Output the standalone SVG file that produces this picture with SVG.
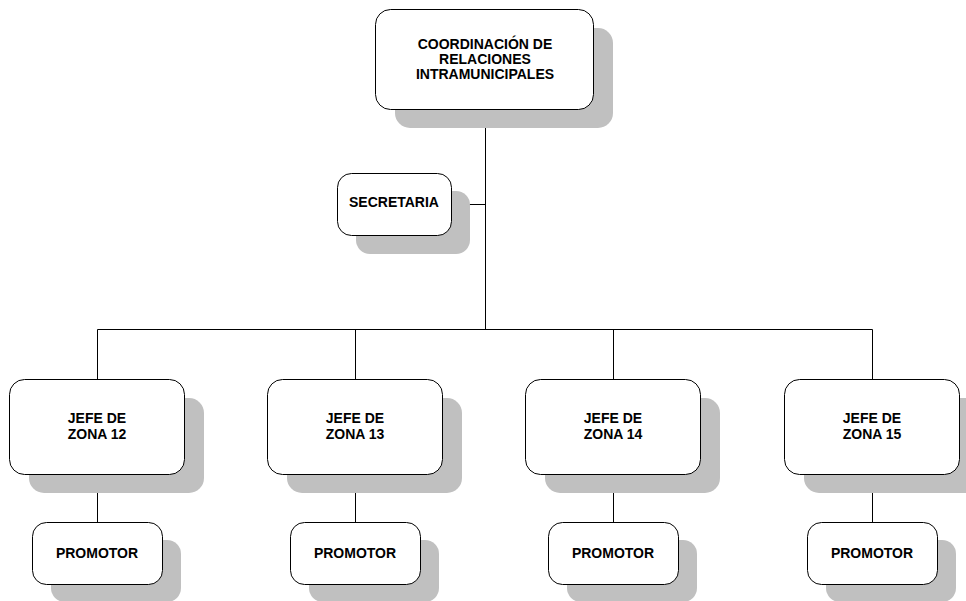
<svg xmlns="http://www.w3.org/2000/svg" width="966" height="601" viewBox="0 0 966 601">
<style>
.sh{fill:#c0c0c0;stroke:none}
.bx{fill:#fff;stroke:#000;stroke-width:1}
.t{font-family:"Liberation Sans",Arial,sans-serif;font-weight:bold;font-size:14px;text-anchor:middle;fill:#000}
.c{stroke:#000;stroke-width:1;fill:none}
</style>
<rect width="966" height="601" fill="#fff"/>
<g id="connectors">
<path class="c" d="M485.5 109V329.5M451 204.5H485.5M97.5 329.5H872.5M97.5 329.5V379M355.5 329.5V379M613.5 329.5V379M872.5 329.5V379M97.5 474V522M355.5 474V522M613.5 474V522M872.5 474V522"/>
</g>
<g id="coord">
<rect class="sh" x="395" y="28" width="218" height="100" rx="15"/>
<rect class="bx" x="375.5" y="9.5" width="218" height="100" rx="15"/>
<text class="t" x="485" y="49">COORDINACIÓN DE</text>
<text class="t" x="485" y="64">RELACIONES</text>
<text class="t" x="485" y="79">INTRAMUNICIPALES</text>
</g>
<g id="secretaria">
<rect class="sh" x="356" y="191" width="114" height="63" rx="14"/>
<rect class="bx" x="337.5" y="173.5" width="114" height="62" rx="14"/>
<text class="t" x="394" y="207">SECRETARIA</text>
</g>
<g id="jefe12">
<rect class="sh" x="29" y="398" width="175" height="95" rx="15"/>
<rect class="bx" x="9.5" y="379.5" width="175" height="95" rx="15"/>
<text class="t" x="97" y="423">JEFE DE</text>
<text class="t" x="97" y="439">ZONA 12</text>
</g>
<g id="jefe13">
<rect class="sh" x="287" y="398" width="175" height="95" rx="15"/>
<rect class="bx" x="267.5" y="379.5" width="175" height="95" rx="15"/>
<text class="t" x="355" y="423">JEFE DE</text>
<text class="t" x="355" y="439">ZONA 13</text>
</g>
<g id="jefe14">
<rect class="sh" x="545" y="398" width="175" height="95" rx="15"/>
<rect class="bx" x="525.5" y="379.5" width="175" height="95" rx="15"/>
<text class="t" x="613" y="423">JEFE DE</text>
<text class="t" x="613" y="439">ZONA 14</text>
</g>
<g id="jefe15">
<rect class="sh" x="804" y="398" width="175" height="95" rx="15"/>
<rect class="bx" x="784.5" y="379.5" width="175" height="95" rx="15"/>
<text class="t" x="872" y="423">JEFE DE</text>
<text class="t" x="872" y="439">ZONA 15</text>
</g>
<g id="promotor12">
<rect class="sh" x="51" y="540" width="130" height="62" rx="14"/>
<rect class="bx" x="32.5" y="522.5" width="130" height="62" rx="14"/>
<text class="t" x="97" y="558">PROMOTOR</text>
</g>
<g id="promotor13">
<rect class="sh" x="309" y="540" width="130" height="62" rx="14"/>
<rect class="bx" x="290.5" y="522.5" width="130" height="62" rx="14"/>
<text class="t" x="355" y="558">PROMOTOR</text>
</g>
<g id="promotor14">
<rect class="sh" x="567" y="540" width="130" height="62" rx="14"/>
<rect class="bx" x="548.5" y="522.5" width="130" height="62" rx="14"/>
<text class="t" x="613" y="558">PROMOTOR</text>
</g>
<g id="promotor15">
<rect class="sh" x="826" y="540" width="130" height="62" rx="14"/>
<rect class="bx" x="807.5" y="522.5" width="130" height="62" rx="14"/>
<text class="t" x="872" y="558">PROMOTOR</text>
</g>
</svg>
